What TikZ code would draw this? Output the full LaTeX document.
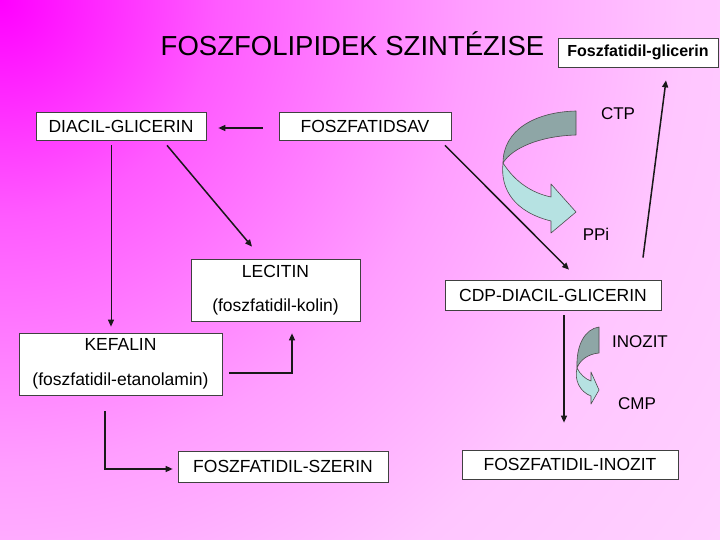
\documentclass[tikz,border=0pt]{standalone}
\usepackage{fontspec}
\setmainfont{Liberation Sans}
\usetikzlibrary{arrows.meta,calc}
\definecolor{bgA}{RGB}{255,0,255}
\definecolor{bgB}{RGB}{255,90,255}
\definecolor{bgC}{RGB}{255,158,255}
\definecolor{bgD}{RGB}{255,198,255}
\definecolor{bgE}{RGB}{255,208,255}
\definecolor{ribdark}{RGB}{142,166,166}
\definecolor{riblight}{RGB}{182,226,226}
\pgfdeclareradialshading{bgshade}{\pgfpoint{0bp}{0bp}}{color(0bp)=(bgA); color(6bp)=(bgB); color(13bp)=(bgC); color(19bp)=(bgD); color(25bp)=(bgE); color(50bp)=(bgE)}
\tikzset{
  box/.style={draw=black!75, fill=white, line width=0.7pt, inner sep=0pt,
    font=\fontsize{17.5}{21}\selectfont},
  box2/.style={box, align=center, font=\fontsize{17.5}{34.5}\selectfont},
  lbl/.style={inner sep=0pt, font=\fontsize{17}{20}\selectfont},
  arr/.style={line width=1.3pt, draw=black!90, -{Triangle[length=7pt,width=6pt]}},
  ribbon/.style={draw=black!70, line width=0.6pt, line join=round}
}
\begin{document}
\begin{tikzpicture}[x=1pt,y=-1pt]
\useasboundingbox (0,0) rectangle (720,540);
\begin{scope}
  \clip (0,0) rectangle (720,540);
  \shade[shading=bgshade] (-900,-900) rectangle (900,900);
\end{scope}

% title
\node[anchor=base, inner sep=0pt, font=\fontsize{27.5}{32}\selectfont] (title) at (352.5,56) {FOSZFOLIPIDEK SZINTÉZISE};

% boxes
\node[box, minimum width=160, minimum height=29, font=\bfseries\fontsize{16}{19}\selectfont] (glic) at (638,52.5) {Foszfatidil-glicerin};
\node[box, minimum width=170, minimum height=28] (diacil) at (121,126) {DIACIL-GLICERIN};
\node[box, minimum width=172, minimum height=28] (fsav) at (365,126) {FOSZFATIDSAV};
\node[box2, minimum width=169, minimum height=62] (lecitin) at (275.5,290) {LECITIN\\(foszfatidil-kolin)};
\node[box2, minimum width=203, minimum height=62] (kefalin) at (120.5,364) {KEFALIN\\(foszfatidil-etanolamin)};
\node[box, minimum width=216, minimum height=30] (cdp) at (553,295) {CDP-DIACIL-GLICERIN};
\node[box, minimum width=210, minimum height=31] (szerin) at (283,466.5) {FOSZFATIDIL-SZERIN};
\node[box, minimum width=216, minimum height=29] (pinozit) at (570,464.5) {FOSZFATIDIL-INOZIT};

% labels
\node[lbl] (ctp) at (618,114) {CTP};
\node[lbl] (ppi) at (596,234) {PPi};
\node[lbl] (inozit) at (640,342) {INOZIT};
\node[lbl] (cmp) at (637,404) {CMP};

% connectors
\draw[arr] ($(fsav.west)+(-16,2)$) -- ($(diacil.east)+(12,2)$);
\draw[arr, line width=1pt] ($(diacil.south)+(-10,5)$) -- ($(kefalin.north)+(-9.5,-6)$);
\draw[arr, line width=1.5pt] ($(diacil.south)+(46,5)$) -- ($(lecitin.north)+(-23.5,-12)$);
\draw[arr, line width=1.5pt] ($(fsav.south)+(80,5)$) -- ($(cdp.north)+(16,-10)$);
\draw[arr, line width=1.5pt] ($(cdp.north)+(90,-22)$) -- ($(glic.south)+(28,13)$);
\draw[arr] ($(cdp.south)+(11,5)$) -- ($(pinozit.north)+(-6,-27)$);
\draw[arr] ($(kefalin.east)+(7,9)$) -| ($(lecitin.south)+(16.5,12)$);
\draw[arr] ($(kefalin.south)+(-15.5,16)$) |- ($(szerin.west)+(-5,2.5)$);

% big curved ribbon arrow
\filldraw[ribbon, fill=ribdark] (576,111) .. controls (535,112) and (503,130) .. (503,163)
  .. controls (512,148) and (540,136) .. (576,135) -- cycle;
\filldraw[ribbon, fill=riblight] (503,163) .. controls (515,182) and (532,193) .. (551,197)
  -- (551,184) -- (576,212) -- (551,233) -- (551,221)
  .. controls (515,212) and (500,190) .. (503,163) -- cycle;

% small curved ribbon arrow
\filldraw[ribbon, fill=ribdark] (599,327) .. controls (585,329) and (576,345) .. (577,368)
  .. controls (580,360) and (588,354) .. (599,353) -- cycle;
\filldraw[ribbon, fill=riblight] (577,368) .. controls (580,374) and (585,379) .. (591,381)
  -- (591,372) -- (599,390) -- (591,404) -- (591,396)
  .. controls (580,392) and (574,380) .. (577,368) -- cycle;
\end{tikzpicture}
\end{document}
